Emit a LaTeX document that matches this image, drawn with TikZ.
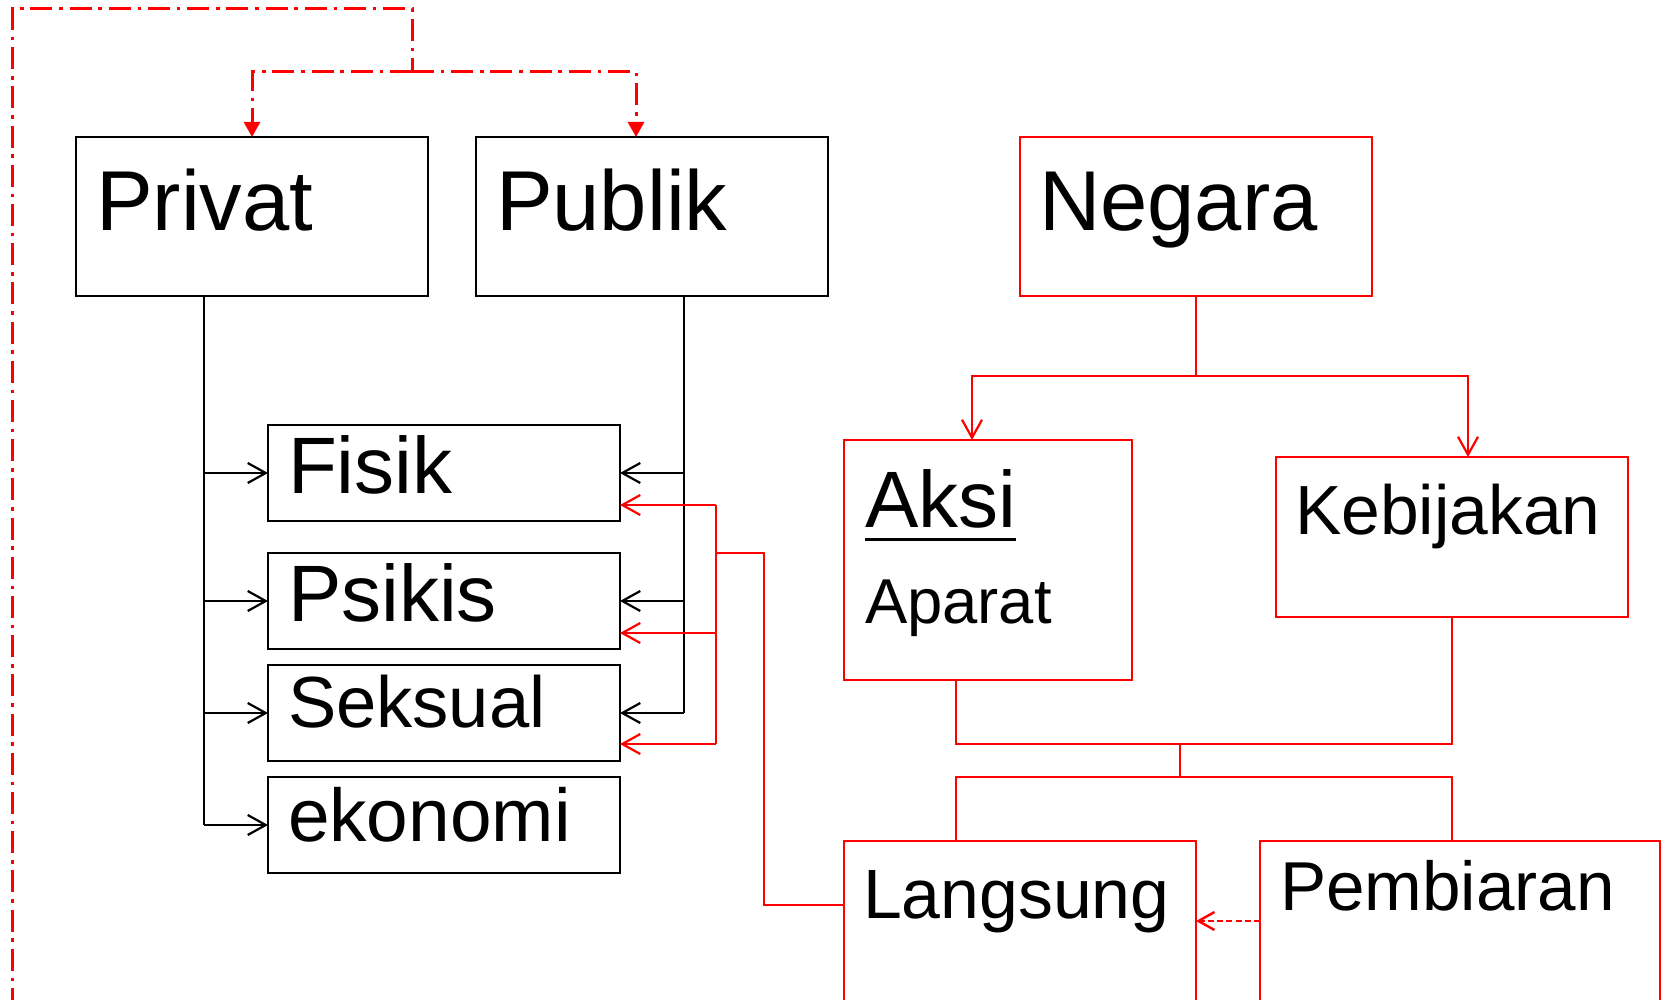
\documentclass[tikz,border=0pt]{standalone}
\usepackage{fontspec}
\setmainfont{Liberation Sans}
\usetikzlibrary{arrows.meta,calc}
\begin{document}
\begin{tikzpicture}[x=0.5pt,y=-0.5pt,
  box/.style={draw=black,line width=1.1pt,inner sep=0pt,outer sep=0pt,anchor=north west},
  rbox/.style={box,draw=red},
  lbl/.style={inner sep=0pt,outer sep=0pt,anchor=base west},
  conn/.style={line width=1.1pt,draw=black},
  rconn/.style={line width=1.1pt,draw=red},
  barb/.style={conn,-{Straight Barb[length=9pt,width=10pt,line width=1.1pt]}},
  rbarb/.style={rconn,-{Straight Barb[length=9pt,width=10pt,line width=1.1pt]}},
  dd/.style={draw=red,line width=1.5pt,dash pattern=on 11pt off 3.4pt on 1.8pt off 3.4pt},
  ddarrow/.style={-{Triangle[length=7.5pt,width=8pt]}},
  rdashed/.style={draw=red,line width=1.3pt,dash pattern=on 3pt off 1.6pt,-{Straight Barb[length=8pt,width=9pt,line width=1.2pt]}},
  fs/.style={font=\fontsize{#1}{#1}\selectfont}
]
\useasboundingbox (0,0) rectangle (1664,1000);
\clip (0,0) rectangle (1664,1000);

% boxes
\node[box,minimum width=176pt,minimum height=79.5pt] (privat) at (76,137) {};
\node[box,minimum width=176pt,minimum height=79.5pt] (publik) at (476,137) {};
\node[rbox,minimum width=176pt,minimum height=79.5pt] (negara) at (1020,137) {};
\node[box,minimum width=176pt,minimum height=48pt] (fisik) at (268,425) {};
\node[box,minimum width=176pt,minimum height=48pt] (psikis) at (268,553) {};
\node[box,minimum width=176pt,minimum height=48pt] (seksual) at (268,665) {};
\node[box,minimum width=176pt,minimum height=48pt] (ekonomi) at (268,777) {};
\node[rbox,minimum width=144pt,minimum height=120pt] (aksi) at (844,440) {};
\node[rbox,minimum width=176pt,minimum height=80pt] (kebijakan) at (1276,457) {};
\node[rbox,minimum width=176pt,minimum height=150pt] (langsung) at (844,841) {};
\node[rbox,minimum width=200pt,minimum height=150pt] (pembiaran) at (1260,841) {};

% texts
\node[lbl,fs=42.5pt] (tprivat) at (96,231) {Privat};
\node[lbl,fs=42.5pt] (tpublik) at (496,231) {Publik};
\node[lbl,fs=42.5pt] (tnegara) at (1039,231) {Negara};
\node[lbl,fs=40pt] (tfisik) at (288,493) {Fisik};
\node[lbl,fs=40pt] (tpsikis) at (288,621) {Psikis};
\node[lbl,fs=36.2pt] (tseksual) at (288,727) {Seksual};
\node[lbl,fs=37.4pt] (tekonomi) at (288,841) {ekonomi};
\node[lbl,fs=40pt] (taksi) at (865,527) {Aksi};
\draw[line width=1.5pt] ($(taksi.base west)+(0,12)$) -- ($(taksi.base east)+(0,12)$);
\node[lbl,fs=31.7pt] (taparat) at (865,623) {Aparat};
\node[lbl,fs=34.8pt] (tkebijakan) at (1295,534) {Kebijakan};
\node[lbl,fs=34.9pt] (tlangsung) at (863,918) {Langsung};
\node[lbl,fs=34.6pt] (tpembiaran) at (1280,910) {Pembiaran};

% dash-dot connectors
\coordinate (ddstart) at (12.7,1010);
\coordinate (ddj) at (412,72);
\draw[dd] (ddstart) |- (412,8.5) -- (ddj);
\draw[dd,ddarrow] (ddj) -| (privat.north);
\draw[dd,ddarrow] (ddj) -| (636,0 |- publik.north);

% Privat to categories
\draw[conn] (204,0 |- privat.south) -- (204,0 |- ekonomi.west);
\foreach \n in {fisik,psikis,seksual,ekonomi}
  \draw[barb] (204,0 |- \n.west) -- (\n.west);

% Publik to categories
\draw[conn] (684,0 |- publik.south) -- (684,0 |- seksual.east);
\foreach \n in {fisik,psikis,seksual}
  \draw[barb] (684,0 |- \n.east) -- (\n.east);

% Langsung to categories (red)
\coordinate (fr) at ($(fisik.east)+(0,32)$);
\coordinate (pr) at ($(psikis.east)+(0,32)$);
\coordinate (sr) at ($(seksual.east)+(0,31)$);
\coordinate (lin) at ($(langsung.north west)+(0,64)$);
\draw[rconn] (lin) -| (764,553) -- (716,553);
\draw[rconn] (716,0 |- fr) -- (716,0 |- sr);
\foreach \c in {fr,pr,sr}
  \draw[rbarb] (716,0 |- \c) -- (\c);

% Negara to Aksi / Kebijakan
\coordinate (nj) at (negara.south |- 0,376);
\draw[rconn] (negara.south) -- (nj);
\draw[rbarb] (nj) -| (972,0 |- aksi.north);
\draw[rbarb] (nj) -| (1468,0 |- kebijakan.north);

% Aksi / Kebijakan to Langsung / Pembiaran
\draw[rconn] (956,0 |- aksi.south) |- (1452,744) -- (1452,0 |- kebijakan.south);
\draw[rconn] (1180,744) -- (1180,777);
\draw[rconn] (956,0 |- langsung.north) |- (1452,777) -- (1452,0 |- pembiaran.north);

% Pembiaran to Langsung (dashed)
\coordinate (pd) at ($(pembiaran.north west)+(0,80)$);
\draw[rdashed] (pd) -- (langsung.east |- pd);
\end{tikzpicture}
\end{document}
